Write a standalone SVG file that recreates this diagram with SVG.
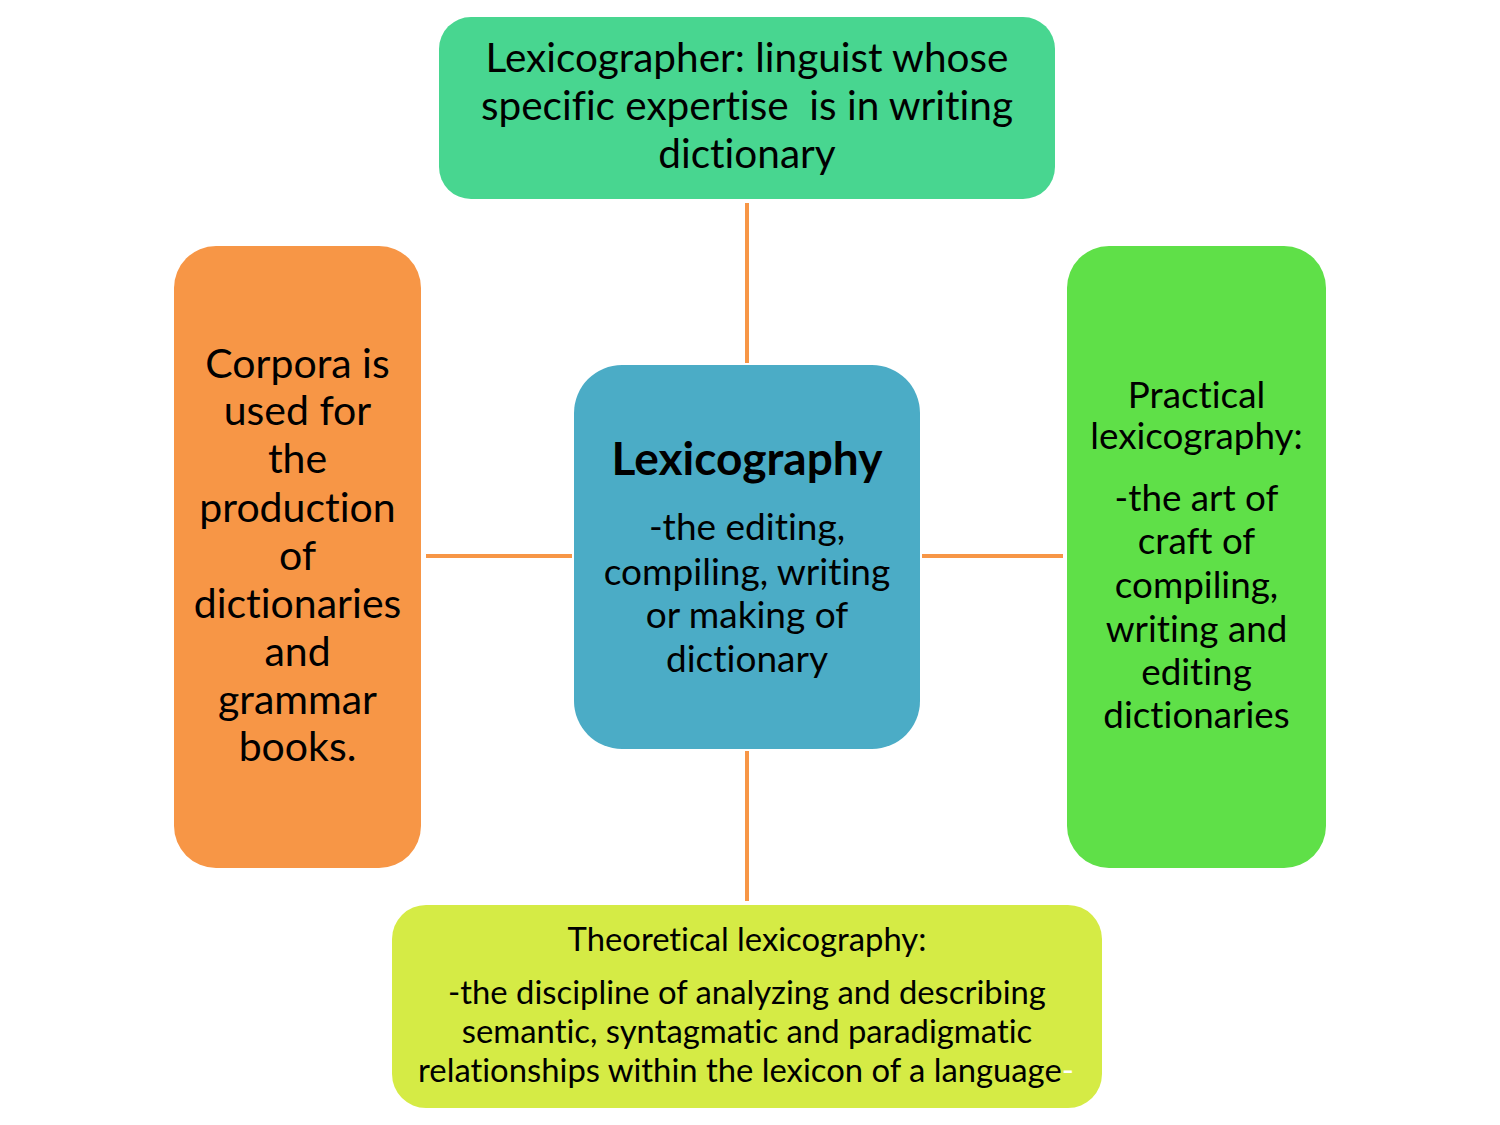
<svg xmlns="http://www.w3.org/2000/svg" width="1500" height="1125" viewBox="0 0 1500 1125">
<style>
text{font-family:Lato,"Open Sans","Liberation Sans",sans-serif;fill:#000;text-anchor:middle;font-variant-ligatures:none;font-feature-settings:"liga" 0,"clig" 0}
.c{stroke:#F79646;stroke-width:4;fill:none}
</style>
<rect width="1500" height="1125" fill="#fff"/>
<g id="connectors">
<line class="c" x1="747" y1="203" x2="747" y2="363"/>
<line class="c" x1="747" y1="751" x2="747" y2="901"/>
<line class="c" x1="426" y1="556" x2="572" y2="556"/>
<line class="c" x1="922" y1="556" x2="1063" y2="556"/>
</g>
<g id="top">
<rect x="439" y="17" width="616" height="182" rx="32" fill="#48D690"/>
<text font-size="40.5" x="747" y="72">Lexicographer: linguist whose</text>
<text font-size="40.5" x="747" y="120" xml:space="preserve">specific expertise  is in writing</text>
<text font-size="40.5" x="747" y="168">dictionary</text>
</g>
<g id="left">
<rect x="174" y="246" width="247" height="622" rx="42" fill="#F79646"/>
<text font-size="41" x="297.5" y="378">Corpora is</text>
<text font-size="41" x="297.5" y="425">used for</text>
<text font-size="41" x="297.5" y="473">the</text>
<text font-size="41" x="297.5" y="522">production</text>
<text font-size="41" x="297.5" y="570">of</text>
<text font-size="41" x="297.5" y="618">dictionaries</text>
<text font-size="41" x="297.5" y="666">and</text>
<text font-size="41" x="297.5" y="714">grammar</text>
<text font-size="41" x="297.5" y="761">books.</text>
</g>
<g id="center">
<rect x="574" y="365" width="346" height="384" rx="48" fill="#4BACC6"/>
<text font-size="46" font-weight="bold" x="747" y="475">Lexicography</text>
<text font-size="37" x="747" y="540">-the editing,</text>
<text font-size="37" x="747" y="585">compiling, writing</text>
<text font-size="37" x="747" y="628">or making of</text>
<text font-size="37" x="747" y="672">dictionary</text>
</g>
<g id="right">
<rect x="1067" y="246" width="259" height="622" rx="42" fill="#5FE048"/>
<text font-size="36.8" x="1196.5" y="408">Practical</text>
<text font-size="36.8" x="1196.5" y="449">lexicography:</text>
<text font-size="36.8" x="1196.5" y="511">-the art of</text>
<text font-size="36.8" x="1196.5" y="554">craft of</text>
<text font-size="36.8" x="1196.5" y="598">compiling,</text>
<text font-size="36.8" x="1196.5" y="642">writing and</text>
<text font-size="36.8" x="1196.5" y="685">editing</text>
<text font-size="36.8" x="1196.5" y="728">dictionaries</text>
</g>
<g id="bottom">
<rect x="392" y="905" width="710" height="203" rx="34" fill="#D5EB45"/>
<text font-size="32.8" x="747" y="951">Theoretical lexicography:</text>
<text font-size="32.8" x="747" y="1004">-the discipline of analyzing and describing</text>
<text font-size="32.8" x="747" y="1043">semantic, syntagmatic and paradigmatic</text>
<text font-size="32.8" x="746" y="1082">relationships within the lexicon of a language<tspan style="fill:#fff">-</tspan></text>
</g>
</svg>
